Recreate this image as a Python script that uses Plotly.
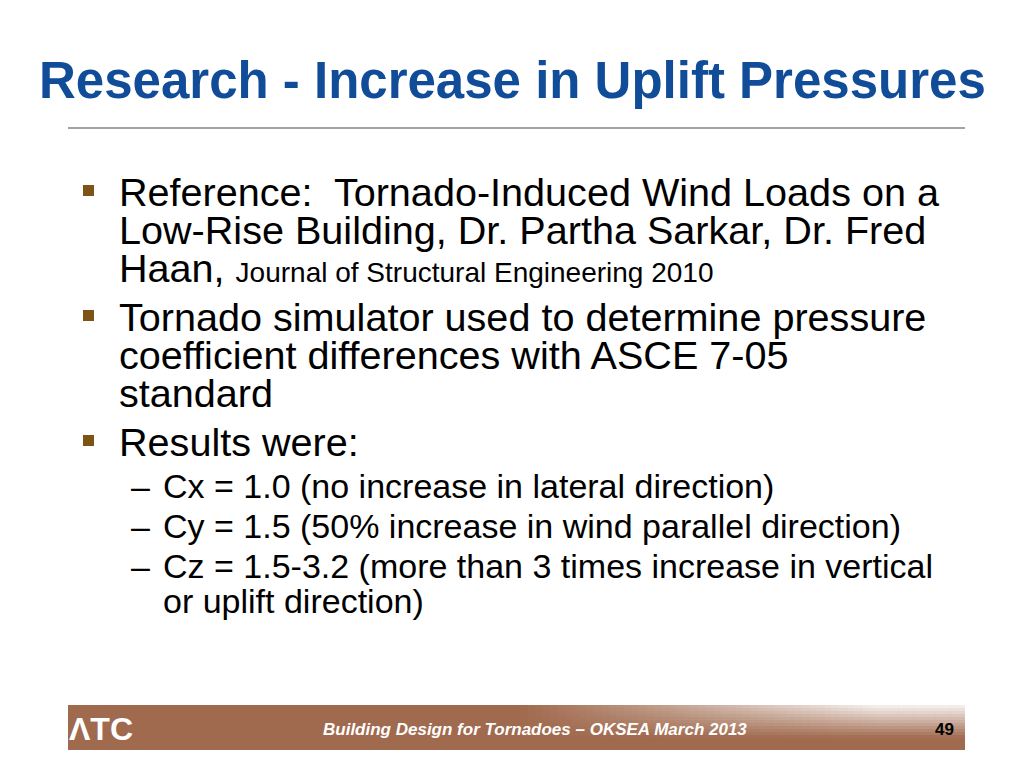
import plotly.graph_objects as go

# Slide content
title = "Research - Increase in Uplift Pressures"

bullets = [
    ["Reference:  Tornado-Induced Wind Loads on a",
     "Low-Rise Building, Dr. Partha Sarkar, Dr. Fred",
     "Haan, <span style='font-size:28px'>Journal of Structural Engineering 2010</span>"],
    ["Tornado simulator used to determine pressure",
     "coefficient differences with ASCE 7-05",
     "standard"],
    ["Results were:"],
]

sub_bullets = [
    ["Cx = 1.0 (no increase in lateral direction)"],
    ["Cy = 1.5 (50% increase in wind parallel direction)"],
    ["Cz = 1.5-3.2 (more than 3 times increase in vertical",
     "or uplift direction)"],
]

footer_text = "Building Design for Tornadoes – OKSEA March 2013"
page_number = "49"
logo_text = "ΛTC"

FONT = "Liberation Sans, Arial, sans-serif"
TITLE_BLUE = "#104C97"
BULLET_BROWN = "#7D5316"
BAR_RGB = (160, 106, 78)


def mix_white(rgb, t):
    return "rgb({},{},{})".format(*[round(c + (255 - c) * t) for c in rgb])


fig = go.Figure()
shapes = []
annotations = []

# title
annotations.append(dict(
    x=512, y=80, text=f"<b>{title}</b>", showarrow=False,
    xanchor="center", yanchor="middle",
    font=dict(family=FONT, size=51, color=TITLE_BLUE),
))
shapes.append(dict(type="line", x0=68, x1=965, y0=128, y1=128,
                   line=dict(color="#A3A3A3", width=2)))

# main bullets
y = 192
line_gap = 38
for block in bullets:
    shapes.append(dict(type="rect", x0=83, x1=94, y0=y - 7, y1=y + 4,
                       fillcolor=BULLET_BROWN, line=dict(width=0)))
    for line in block:
        annotations.append(dict(
            x=117, y=y, text=line, showarrow=False,
            xanchor="left", yanchor="middle",
            font=dict(family=FONT, size=39.6, color="black"),
        ))
        y += line_gap
    y += 11

# sub bullets
y = 486
for block in sub_bullets:
    annotations.append(dict(
        x=129, y=y, text="–", showarrow=False,
        xanchor="left", yanchor="middle",
        font=dict(family=FONT, size=34, color="black"),
    ))
    for line in block:
        annotations.append(dict(
            x=161, y=y, text=line, showarrow=False,
            xanchor="left", yanchor="middle",
            font=dict(family=FONT, size=34, color="black"),
        ))
        y += 35
    y += 5

# footer bar: brown, fading to white towards the top right
shapes.append(dict(type="rect", x0=68, x1=965, y0=705, y1=750,
                   fillcolor=mix_white(BAR_RGB, 0), line=dict(width=0)))
gx0, gx1, nx = 520, 965, 60
gy0, gy1, ny = 705, 738, 11
dx = (gx1 - gx0) / nx
dy = (gy1 - gy0) / ny
for i in range(nx):
    tx = min(1.0, (i + 0.5) / nx * 1.25)
    for j in range(ny):
        ty = 1 - (j + 0.5) / ny
        t = 0.92 * tx * ty
        shapes.append(dict(type="rect",
                           x0=gx0 + i * dx, x1=min(gx1, gx0 + (i + 1) * dx + 0.6),
                           y0=gy0 + j * dy, y1=gy0 + (j + 1) * dy + 0.6,
                           fillcolor=mix_white(BAR_RGB, t), line=dict(width=0)))

annotations.append(dict(
    x=101, y=729, text=f"<b>{logo_text}</b>", showarrow=False,
    xanchor="center", yanchor="middle",
    font=dict(family=FONT, size=32, color="white"),
))
annotations.append(dict(
    x=535, y=729, text=f"<b><i>{footer_text}</i></b>", showarrow=False,
    xanchor="center", yanchor="middle",
    font=dict(family=FONT, size=17, color="white"),
))
annotations.append(dict(
    x=944, y=729, text=f"<b>{page_number}</b>", showarrow=False,
    xanchor="center", yanchor="middle",
    font=dict(family=FONT, size=17, color="black"),
))

# page body has an 8px margin, so offset the ranges to keep pixel coordinates
fig.update_layout(
    width=1024, height=768,
    margin=dict(l=0, r=0, t=0, b=0),
    paper_bgcolor="white", plot_bgcolor="white",
    xaxis=dict(range=[8, 1032], visible=False, fixedrange=True),
    yaxis=dict(range=[776, 8], visible=False, fixedrange=True),
    shapes=shapes,
    annotations=annotations,
    showlegend=False,
)

fig.write_html("out.html")
